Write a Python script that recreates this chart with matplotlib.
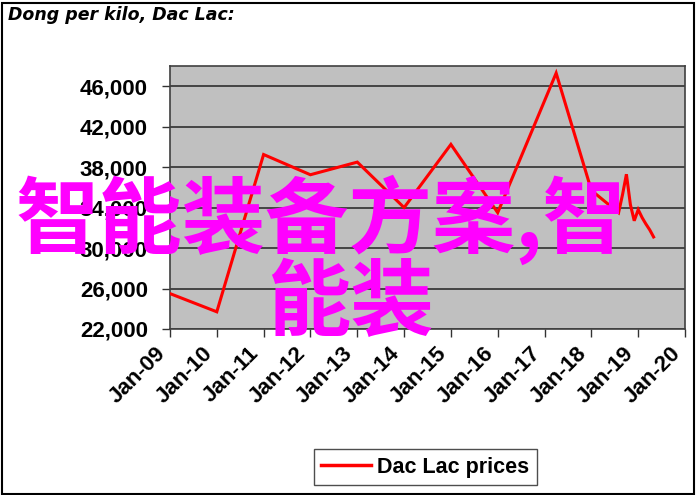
import matplotlib
matplotlib.use("Agg")
import matplotlib.pyplot as plt
import matplotlib.dates as mdates
from matplotlib.patches import Rectangle
import pandas as pd

# ---- data ----
dates = ['2009-01', '2010-01', '2011-01', '2012-01', '2013-01', '2014-01',
         '2015-01', '2016-01', '2017-04', '2018-01', '2018-08', '2018-09',
         '2018-10', '2018-11', '2018-12', '2019-01', '2019-02', '2019-03',
         '2019-04', '2019-05']
prices = [25500, 23700, 39250, 37250, 38500, 34000,
          40250, 33500, 47300, 35700, 33500, 35300,
          37300, 34300, 32700, 33800, 33000, 32400,
          31800, 31100]
y_ticks = [22000, 26000, 30000, 34000, 38000, 42000, 46000]
title = "Dong per kilo, Dac Lac:"
series_name = "Dac Lac prices"
overlay_line1 = "智能装备方案,智"
overlay_line2 = "能装"

W, H = 696, 495
fig = plt.figure(figsize=(W / 100, H / 100), dpi=100)
fig.patch.set_facecolor('white')

ax = fig.add_axes([170 / W, 1 - 329 / H, (685 - 170) / W, (329 - 66) / H])
ax.set_facecolor('#C0C0C0')

x = pd.to_datetime(dates)
ax.plot(x, prices, color='#FF0000', lw=2.2, solid_joinstyle='miter', zorder=3,
        label=series_name)

ax.set_ylim(22000, 48000)
ax.set_yticks(y_ticks)
ax.set_yticklabels([f"{v:,}" for v in y_ticks])
ax.set_xlim(pd.Timestamp('2009-01-01'), pd.Timestamp('2020-01-01'))
ax.xaxis.set_major_locator(mdates.YearLocator())
ax.xaxis.set_major_formatter(mdates.DateFormatter('%b-%y'))

ax.grid(axis='y', color='#3a3a3a', lw=1.3)
ax.set_axisbelow(True)
for s in ax.spines.values():
    s.set_color('#404040')
    s.set_linewidth(1.2)

lab_font = dict(family='Liberation Sans', weight='bold', size=16)
ax.tick_params(axis='y', length=6, width=1, color='#333333', pad=10)
ax.tick_params(axis='x', length=6, width=1, color='#333333', pad=4)
for t in ax.get_yticklabels():
    t.set_fontproperties(lab_font)
for t in ax.get_xticklabels():
    t.set_fontproperties(lab_font)
    t.set_rotation(45)
    t.set_ha('right')
    t.set_va('top')

fig.text(8 / W, 1 - 15 / H, title, family='DejaVu Sans', weight='bold',
         style='italic', size=12.5, va='center', ha='left')

leg = fig.legend(loc='center', bbox_to_anchor=(425.5 / W, 1 - 467 / H),
                 prop=dict(family='Liberation Sans', weight='bold', size=15.5),
                 frameon=True, fancybox=False, edgecolor='#222222',
                 handlelength=2.3, handletextpad=0.3, borderpad=0.35,
                 borderaxespad=0)
leg.get_frame().set_linewidth(1.0)
leg.get_lines()[0].set_linewidth(2.5)

fig.patches.append(Rectangle((1.5 / W, 1.5 / H), (W - 4) / W, (H - 4) / H,
                             transform=fig.transFigure, fill=False,
                             edgecolor='black', lw=1.5))

cjk = ['Noto Sans CJK SC', 'DejaVu Sans']
fig.text(16 / W, 1 - 220 / H, overlay_line1, family=cjk, weight='bold',
         size=60, color='#FF00FF', va='center', ha='left', zorder=10)
fig.text(267 / W, 1 - 304 / H, overlay_line2, family=cjk, weight='bold',
         size=60, color='#FF00FF', va='center', ha='left', zorder=10)

fig.savefig('out.png', dpi=100)
